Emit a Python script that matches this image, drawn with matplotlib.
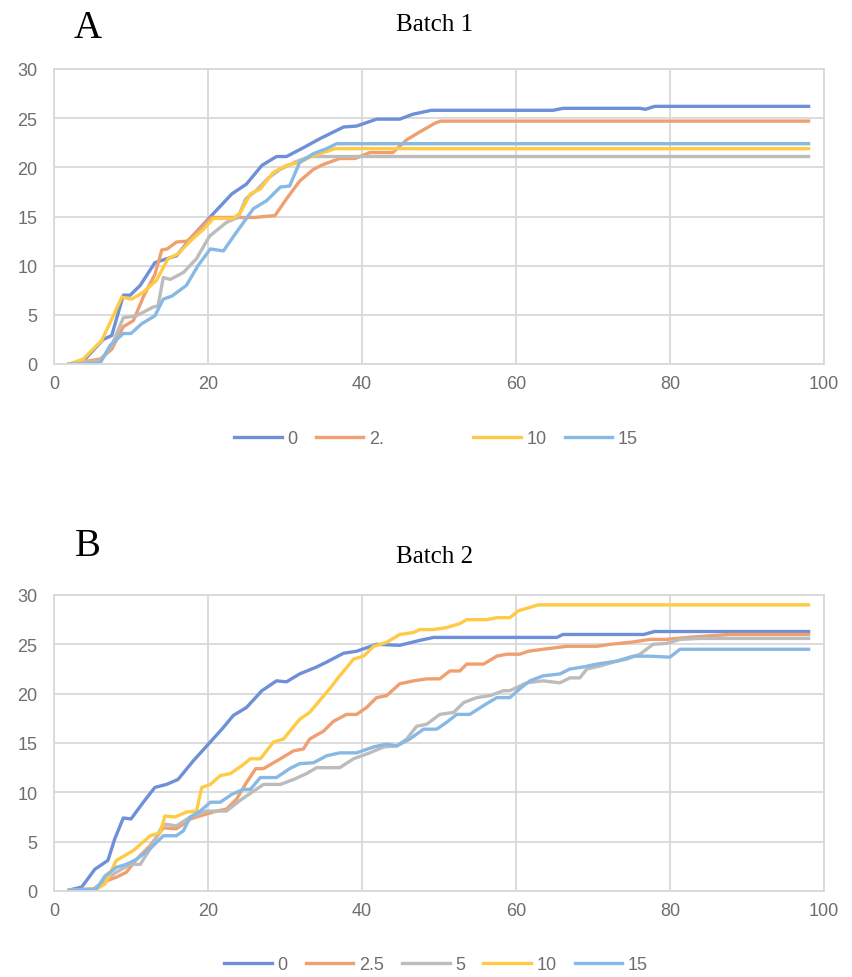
import matplotlib.pyplot as plt
from matplotlib.lines import Line2D

# Batch 1 : vertex positions (day, cumulative value)
b1_x_0 = [2, 3.8, 6.4, 7.5, 9, 9.9, 11.2, 13.1, 14.6, 15.9, 18.1, 20.7, 23.1, 25, 27, 28.9, 30.2, 32.4, 34.5, 37.6,
          39.3, 41.9, 44.9, 46.6, 49, 64.8, 66.1, 76.1, 76.8, 78, 98]
b1_y_0 = [0, 0.3, 2.5, 2.9, 7.0, 7.0, 8.0, 10.3, 10.7, 11.0, 13.1, 15.3, 17.3, 18.3, 20.2, 21.1, 21.1, 22.0, 22.9, 24.1,
          24.2, 24.9, 24.9, 25.4, 25.8, 25.8, 26.0, 26.0, 25.9, 26.2, 26.2]
b1_x_25 = [2, 6, 7.5, 9, 10.3, 11.7, 13.1, 14, 14.7, 15.9, 17.3, 18.5, 20.4, 23, 26, 28.7, 30.2, 31.9, 33.7, 35,
           37.1, 39.1, 41, 44, 45.8, 47.5, 49.5, 50.2, 98]
b1_y_25 = [0, 0.5, 1.5, 3.8, 4.4, 7.0, 9.1, 11.6, 11.7, 12.4, 12.5, 13.4, 14.9, 14.9, 14.9, 15.1, 16.8, 18.6, 19.8, 20.3,
           20.9, 20.9, 21.5, 21.5, 22.8, 23.6, 24.5, 24.7, 24.7]
b1_x_5 = [2, 6, 7.5, 9, 10.7, 12.9, 13.5, 14.2, 15.1, 16.8, 18.5, 20.2, 22.4, 23.9, 24.9, 26.2, 27.8, 29.4, 31.5, 33.2, 98]
b1_y_5 = [0, 0.3, 1.9, 4.7, 4.9, 5.8, 5.9, 8.8, 8.6, 9.3, 10.7, 13.0, 14.4, 14.9, 16.8, 17.6, 18.9, 19.8, 20.6, 21.1, 21.1]
b1_x_10 = [2, 3.8, 6.2, 7.7, 8.8, 10.1, 11.6, 13.3, 14.8, 16.1, 17.7, 19.4, 20.7, 23.3, 24.2, 25.5, 26.8, 28.5, 30.2,
           31.9, 33.7, 35.4, 36.5, 98]
b1_y_10 = [0, 0.5, 2.4, 4.9, 6.8, 6.6, 7.3, 8.5, 10.7, 11.2, 12.5, 13.7, 14.8, 14.8, 15.4, 17.3, 17.8, 19.5, 20.2,
           20.5, 21.2, 21.6, 21.9, 21.9]
b1_x_15 = [2, 3.8, 6, 7.3, 9, 10, 11.4, 13.1, 14.2, 15.3, 17.2, 18.7, 20.3, 22, 23.7, 25.9, 27.6, 29.4, 30.6, 31.9,
           33.7, 35.4, 36.7, 98]
b1_y_15 = [0, 0, 0.1, 1.9, 3.1, 3.1, 4.1, 4.9, 6.6, 6.9, 8.0, 10.0, 11.7, 11.5, 13.4, 15.8, 16.6, 18.0, 18.1, 20.5,
           21.4, 21.9, 22.4, 22.4]

# Batch 2
b2_x_0 = [2, 3.6, 5.3, 7, 7.9, 9, 10, 11.6, 13.1, 14.6, 16.1, 18.1, 20.3, 21.8, 23.3, 25, 27, 28.9, 30.2, 31.9,
          34.1, 35.4, 37.6, 39.3, 41.9, 44.9, 47.5, 49.3, 65.3, 66.1, 76.6, 78, 98]
b2_y_0 = [0.1, 0.4, 2.2, 3.1, 5.3, 7.4, 7.3, 9.0, 10.5, 10.8, 11.3, 13.2, 15.1, 16.4, 17.8, 18.6, 20.3, 21.3, 21.2, 22.0,
          22.7, 23.2, 24.1, 24.3, 25.0, 24.9, 25.4, 25.7, 25.7, 26.0, 26.0, 26.3, 26.3]
b2_x_25 = [2, 5.1, 6.4, 8.1, 9.4, 10.7, 12.5, 14.2, 15.9, 17.7, 19.8, 21.1, 22.4, 23.7, 25, 26.2, 27.2, 29.4, 31.1, 32.4,
           33.2, 35, 36.3, 38, 39.3, 40.6, 41.9, 43.2, 44.9, 46.7, 48.4, 50.1, 51.4, 52.7, 53.6, 55.8, 57.5, 58.8, 60.5,
           61.6, 63.5, 66.6, 70.5, 72.2, 74.8, 77.4, 79.6, 82.2, 87.8, 98]
b2_y_25 = [0.1, 0.2, 0.9, 1.4, 1.9, 3.2, 4.6, 6.4, 6.3, 7.3, 7.8, 8.1, 8.3, 9.3, 11.0, 12.4, 12.4, 13.4, 14.2, 14.4,
           15.4, 16.2, 17.2, 17.9, 17.9, 18.6, 19.6, 19.8, 21.0, 21.3, 21.5, 21.5, 22.3, 22.3, 23.0, 23.0, 23.8, 24.0, 24.0,
           24.3, 24.5, 24.8, 24.8, 25.0, 25.2, 25.5, 25.5, 25.7, 26.0, 26.0]
b2_x_5 = [2, 5.1, 6.4, 8.1, 9.9, 11.2, 12.5, 14.2, 15.9, 17.7, 19.8, 22.4, 24.2, 25.5, 27.2, 29.4, 31.1, 32.8, 34.1, 37.1,
          38.9, 41, 42.8, 44.5, 45.8, 47.1, 48.4, 50.1, 51.9, 53.2, 54.9, 56.6, 58.4, 59.2, 61.4, 63.5, 65.7, 67, 68.3,
          69.2, 70.9, 73.1, 74.4, 76.1, 77.8, 79.6, 81.3, 83.9, 98]
b2_y_5 = [0.1, 0.1, 1.0, 1.9, 2.7, 2.7, 4.3, 6.8, 6.6, 7.5, 8.1, 8.1, 9.2, 9.9, 10.8, 10.8, 11.3, 11.9, 12.5, 12.5,
          13.4, 14.0, 14.6, 14.7, 15.4, 16.7, 16.9, 17.9, 18.1, 19.1, 19.6, 19.8, 20.3, 20.3, 21.1, 21.3, 21.1, 21.6, 21.6,
          22.5, 22.8, 23.3, 23.5, 24.0, 25.0, 25.1, 25.5, 25.6, 25.6]
b2_x_10 = [2, 5.5, 6.6, 8.1, 10.3, 12.5, 13.8, 14.4, 15.7, 17.2, 18.5, 19.2, 20.3, 21.6, 22.9, 24.4, 25.5, 26.8, 28.5,
           29.8, 31.9, 33.2, 34.5, 35.8, 37.1, 38.9, 40.2, 41.5, 43.2, 44.9, 46.7, 47.5, 49.3, 51, 52.7, 53.6, 56.2, 57.5,
           59.2, 60.3, 62.9, 98]
b2_y_10 = [0.1, 0.2, 0.7, 3.1, 4.1, 5.6, 5.9, 7.6, 7.5, 8.0, 8.1, 10.5, 10.8, 11.7, 11.9, 12.7, 13.4, 13.4, 15.1,
           15.4, 17.4, 18.1, 19.3, 20.5, 21.8, 23.5, 23.8, 24.8, 25.2, 26.0, 26.2, 26.5, 26.5, 26.7, 27.1, 27.5, 27.5, 27.7,
           27.7, 28.4, 29.0, 29.0]
b2_x_15 = [2, 5.5, 6.6, 8.1, 9.4, 10.7, 12.5, 14.2, 15.9, 16.8, 17.7, 19, 20.3, 21.6, 23.1, 24.6, 25.5, 26.8, 28.9, 30.6,
           31.9, 33.7, 35.4, 37.1, 39.3, 41.5, 43.2, 44.5, 46.2, 48, 49.7, 51, 52.3, 54, 55.8, 57.5, 59.2, 60.5, 61.8,
           63.5, 65.7, 67, 68.7, 70.5, 73.1, 75.2, 77.4, 80, 81.3, 98]
b2_y_15 = [0.1, 0.2, 1.5, 2.4, 2.7, 3.2, 4.3, 5.6, 5.6, 6.1, 7.5, 8.1, 9.0, 9.0, 9.8, 10.3, 10.3, 11.5, 11.5, 12.4,
           12.9, 13.0, 13.7, 14.0, 14.0, 14.6, 14.9, 14.7, 15.4, 16.4, 16.4, 17.1, 17.9, 17.9, 18.8, 19.6, 19.6, 20.5, 21.3,
           21.8, 22.0, 22.5, 22.7, 23.0, 23.3, 23.8, 23.8, 23.7, 24.5, 24.5]

colors = ['#6D90D8', '#F0A070', '#BCBCBC', '#FFCB45', '#88B8E4']
labels_b1 = ['0', '2.', '', '10', '15']
labels_b2 = ['0', '2.5', '5', '10', '15']
x_ticks = [0, 20, 40, 60, 80, 100]
y_ticks = [0, 5, 10, 15, 20, 25, 30]

batches = [
    ('Batch 1', 'A', [(b1_x_0, b1_y_0), (b1_x_25, b1_y_25), (b1_x_5, b1_y_5), (b1_x_10, b1_y_10), (b1_x_15, b1_y_15)],
     labels_b1),
    ('Batch 2', 'B', [(b2_x_0, b2_y_0), (b2_x_25, b2_y_25), (b2_x_5, b2_y_5), (b2_x_10, b2_y_10), (b2_x_15, b2_y_15)],
     labels_b2),
]

W, H = 852, 978
fig = plt.figure(figsize=(W / 100, H / 100), dpi=100)
plt.rcParams['font.family'] = ['Liberation Sans', 'DejaVu Sans']

# axes boxes in pixels: (left, top, right, bottom)
boxes = [(54, 70, 824, 365), (54, 596, 824, 892)]
title_y = [25, 557]
letter_y = [29, 546]
legend_y = [440, 966]
grid_c = '#D9D9D9'
tick_c = '#6E6E6E'

for (title, letter, series, labels), (l, t, r, b), ty, ly, gy in zip(batches, boxes, title_y, letter_y, legend_y):
    ax = fig.add_axes([l / W, 1 - b / H, (r - l) / W, (b - t) / H])
    for (xs, ys), c in zip(series, colors):
        ax.plot(xs, ys, color=c, lw=2.4, solid_joinstyle='round')
    ax.set_xlim(0, 100)
    ax.set_ylim(0, 30)
    ax.set_xticks(x_ticks)
    ax.set_yticks(y_ticks)
    ax.grid(True, color=grid_c, lw=1.3)
    ax.set_axisbelow(True)
    for s in ax.spines.values():
        s.set_color(grid_c)
        s.set_linewidth(1.3)
    ax.tick_params(length=0, labelsize=13, labelcolor=tick_c)
    ax.tick_params(axis='y', pad=12)
    ax.tick_params(axis='x', pad=8)

    fig.text(435 / W, 1 - ty / H, title, ha='center', va='center', fontsize=18, family='Liberation Serif')
    fig.text(88 / W, 1 - ly / H, letter, ha='center', va='center', fontsize=28, family='Liberation Serif')

    handles = []
    for c, lab in zip(colors, labels):
        if lab == '':
            handles.append(Line2D([], [], color=c, lw=2.4, alpha=0.0))
        else:
            handles.append(Line2D([], [], color=c, lw=2.4))
    fig.legend(handles, labels, loc='center', bbox_to_anchor=(436 / W, 1 - gy / H), ncol=5, frameon=False,
               fontsize=13, handlelength=2.65, handletextpad=0.3, columnspacing=1.0, labelcolor=tick_c)

fig.savefig('out.png', dpi=100)
